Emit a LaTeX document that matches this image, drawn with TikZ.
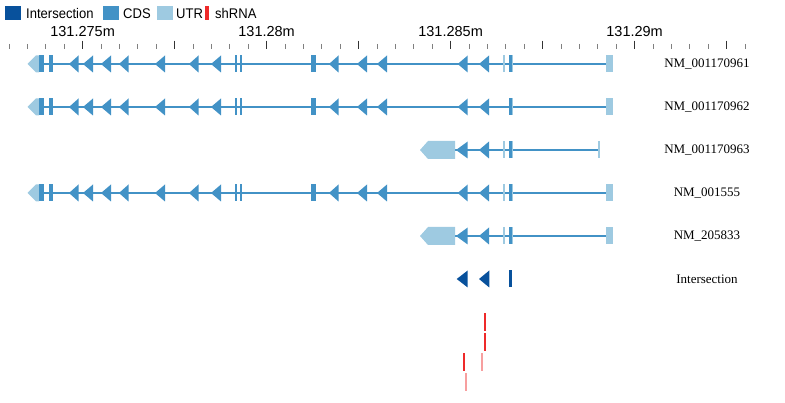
\documentclass[tikz,border=0pt]{standalone}
\usepackage{fontspec}
\setmainfont{Liberation Serif}
\setsansfont{Liberation Sans}
\newfontfamily\uifont[FakeStretch=0.93]{Liberation Sans}
\usetikzlibrary{arrows.meta}

\definecolor{isect}{HTML}{08519C}
\definecolor{cds}{HTML}{4292C6}
\definecolor{utr}{HTML}{9ECAE1}
\definecolor{shrna}{HTML}{EE2A2A}

\newcommand{\cdstri}[4][cds]{\fill[#1] (#2,#4) -- (#3,#4-8.5) -- (#3,#4+8.5) -- cycle;}
\newcommand{\exbox}[4][cds]{\fill[#1] (#2,#4-8.5) rectangle (#3,#4+8.5);}

\begin{document}
\begin{tikzpicture}[x=1pt,y=-1pt,
    intron/.style={draw=cds, line width=2.2pt},
    tick/.style={draw=black!50, line width=0.9pt},
    bigtick/.style={draw=black!80, line width=0.9pt},
    axislab/.style={font=\sffamily\fontsize{14.5}{16}\selectfont, inner sep=0},
    legendlab/.style={font=\uifont\fontsize{14}{16}\selectfont, anchor=west, inner sep=0},
    tracklab/.style={font=\fontsize{13}{15}\selectfont, inner sep=0}]
\useasboundingbox (0,0) rectangle (785,403);

\fill[isect] (5,6) rectangle (21,20.5);
\node[legendlab] (lgIsect) at (26,13.5) {Intersection};
\fill[cds] (103,6) rectangle (119,20.5);
\node[legendlab] (lgCds) at (123,13.5) {CDS};
\fill[utr] (157,6) rectangle (173,20.5);
\node[legendlab] (lgUtr) at (176,13.5) {UTR};
\fill[shrna] (204.5,6) rectangle (208.5,20.5);
\node[legendlab] (lgShrna) at (215,13.5) {shRNA};

\foreach \i in {0,...,40}{
  \pgfmathsetmacro{\tx}{9+18.4*\i}
  \pgfmathtruncatemacro{\m}{mod(\i,5)}
  \ifnum\m=4 \draw[bigtick] (\tx,40.7) -- (\tx,49.3); \else \draw[tick] (\tx,44) -- (\tx,49.3); \fi
}
\foreach \lab [count=\k from 0] in {131.275m,131.28m,131.285m,131.29m}
  \node[axislab] (ax\k) at (82.6+184*\k,31.5) {\lab};

\foreach \ry in {64,107,193}{
  \draw[intron] (39,\ry) -- (610,\ry);
  \fill[utr] (27.5,\ry) -- (36,\ry-8.5) -- (39,\ry-8.5) -- (39,\ry+8.5) -- (36,\ry+8.5) -- cycle;
  \exbox{39}{43.5}{\ry}
  \exbox{49.3}{53.3}{\ry}
  \foreach \a/\b in {69/78.5,83/93,101/111,119/128.5,155/165,189/198.5,211/221,329/338.5,357/367,377/387,457.7/467.7,479/489}{
    \cdstri{\a}{\b}{\ry}
  }
  \exbox{235}{237}{\ry}
  \exbox{239.7}{241.7}{\ry}
  \exbox{311}{315.7}{\ry}
  \exbox[utr]{509.3}{513.3}{\ry}
  \exbox{509.3}{511.7}{\ry}
  \exbox[utr]{605.7}{613.3}{\ry}
}
\foreach \ry in {64,193}{
  \exbox[utr]{503}{504.7}{\ry}
}

\foreach \ry/\xe in {150/599,236/610}{
  \draw[intron] (455,\ry) -- (\xe,\ry);
  \fill[utr] (420,\ry) -- (428,\ry-9) -- (455,\ry-9) -- (455,\ry+9) -- (428,\ry+9) -- cycle;
  \cdstri{456}{467.7}{\ry}
  \cdstri{479}{489}{\ry}
  \exbox[utr]{503}{504.7}{\ry}
  \exbox[utr]{509.3}{513.3}{\ry}
  \exbox{509.3}{511.7}{\ry}
}
\exbox[utr]{598.2}{599.7}{150}
\exbox[utr]{605.7}{613.3}{236}

\cdstri[isect]{456.7}{467.7}{279}
\cdstri[isect]{479}{489.3}{279}
\exbox[isect]{509.3}{511.7}{279}

\foreach \x/\ya/\yb/\pc in {484/312.7/331/100,484/332.7/350.7/100,463/353.3/370.7/100,481/353.3/370.7/45,465/373/390.7/45}
  \fill[shrna!\pc] (\x,\ya) rectangle (\x+1.6,\yb);

\foreach \ry/\name [count=\k] in {64/NM\_001170961,107/NM\_001170962,150/NM\_001170963,193/NM\_001555,236/NM\_205833,279/Intersection}
  \node[tracklab] (trk\k) at (707,\ry) {\name};
\end{tikzpicture}
\end{document}
